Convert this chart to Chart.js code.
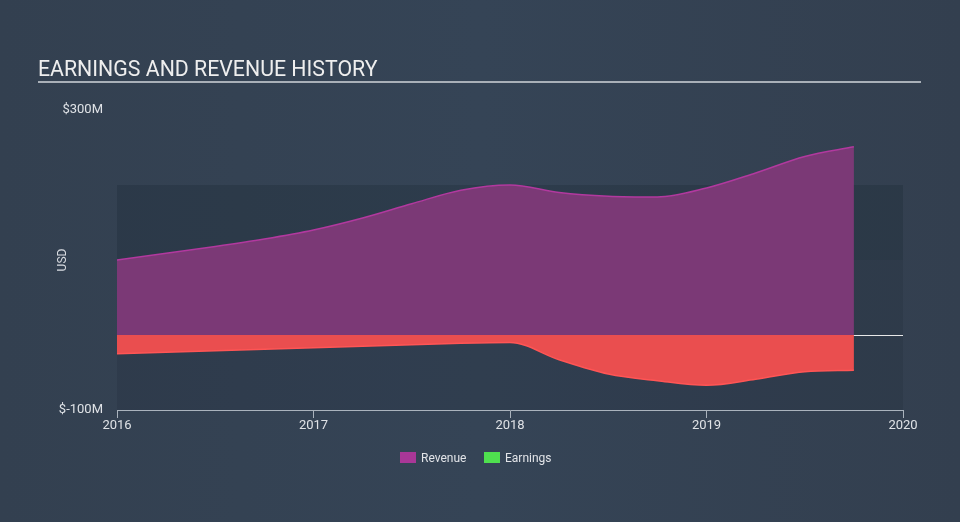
<!DOCTYPE html>
<html>
<head>
<meta charset="utf-8">
<script src="https://cdn.jsdelivr.net/npm/chart.js@4.4.0/dist/chart.umd.min.js"></script>
<style>
  html, body { margin: 0; padding: 0; background: #344253; }
  body { width: 960px; height: 522px; overflow: hidden;
         background: linear-gradient(90deg, #334050 0%, #354456 50%, #333f4f 100%); }
  #wrap { position: relative; width: 960px; height: 522px; }
  canvas { display: block; }
</style>
</head>
<body>
<div id="wrap"><canvas id="c" width="960" height="522"></canvas></div>
<script>
// ---- data (values in $M, x in decimal years) ----
const quarters = [2016.0, 2016.25, 2016.5, 2016.75, 2017.0, 2017.25, 2017.5, 2017.75,
                  2018.0, 2018.25, 2018.5, 2018.75, 2019.0, 2019.25, 2019.5, 2019.75];
const revenue  = [100, 109, 118, 128, 140, 156, 175, 193,
                  200, 190, 185, 184, 196, 216, 238, 251];
const earnings = [-25, -23, -21, -19, -17, -15, -13, -11,
                  -10, -33, -52, -61, -67, -59, -49, -47];
const xTicks = [2016, 2017, 2018, 2019, 2020];
const yTicks = [-100, 300];
const yTickLabels = { "-100": "$-100M", "300": "$300M" };
const seriesNames = ["Revenue", "Earnings"];
const legendColors = ["#a93797", "#4fe04f"];
const titleText = "EARNINGS AND REVENUE HISTORY";
const axisTitle = "USD";

const FONT = "Roboto, 'Open Sans', Arial, sans-serif";

const decor = {
  id: 'decor',
  beforeDatasetsDraw(chart) {
    const {ctx, chartArea: a, scales: {x, y}} = chart;
    ctx.save();
    // bands
    ctx.fillStyle = 'rgba(20,30,40,0.22)';
    ctx.fillRect(a.left, y.getPixelForValue(200), a.right - a.left, y.getPixelForValue(100) - y.getPixelForValue(200));
    ctx.fillStyle = 'rgba(20,30,40,0.14)';
    ctx.fillRect(a.left, y.getPixelForValue(100), a.right - a.left, y.getPixelForValue(-100) - y.getPixelForValue(100));
    // zero line
    const z = Math.round(y.getPixelForValue(0)) + 0.5;
    ctx.strokeStyle = '#e8e8e8';
    ctx.lineWidth = 1;
    ctx.beginPath(); ctx.moveTo(a.left, z); ctx.lineTo(a.right, z); ctx.stroke();
    ctx.restore();
  },
  afterDraw(chart) {
    const {ctx, chartArea: a} = chart;
    ctx.save();
    // title
    ctx.fillStyle = '#eeeeee';
    ctx.font = '21.3px ' + FONT;
    ctx.textBaseline = 'alphabetic';
    ctx.textAlign = 'left';
    ctx.fillText(titleText, 38, 76);
    ctx.fillStyle = '#a9b0b8';
    ctx.fillRect(38, 81, 883, 2);
    // axis title
    ctx.translate(63, 260);
    ctx.rotate(-Math.PI / 2);
    ctx.font = '12px ' + FONT;
    ctx.fillStyle = '#d8dbe0';
    ctx.textAlign = 'center';
    ctx.textBaseline = 'middle';
    ctx.fillText(axisTitle, 0, 0);
    ctx.restore();
    // legend
    ctx.save();
    ctx.font = '12px ' + FONT;
    ctx.textBaseline = 'middle';
    ctx.textAlign = 'left';
    const items = [{x: 400, label: seriesNames[0], c: legendColors[0]},
                   {x: 484, label: seriesNames[1], c: legendColors[1]}];
    items.forEach(it => {
      ctx.fillStyle = it.c;
      ctx.fillRect(it.x, 452, 16, 11);
      ctx.fillStyle = '#e2e4e8';
      ctx.fillText(it.label, it.x + 21, 458.5);
    });
    ctx.restore();
  }
};

new Chart(document.getElementById('c'), {
  type: 'line',
  data: {
    datasets: [
      {
        label: seriesNames[0],
        data: quarters.map((q, i) => ({x: q, y: revenue[i]})),
        borderColor: '#b2399f',
        backgroundColor: 'rgba(123,57,118,1)',
        borderWidth: 1.5,
        fill: 'origin',
        pointRadius: 0,
        cubicInterpolationMode: 'monotone'
      },
      {
        label: seriesNames[1],
        data: quarters.map((q, i) => ({x: q, y: earnings[i]})),
        borderColor: '#ff5555',
        backgroundColor: 'rgba(234,78,79,1)',
        borderWidth: 1.5,
        fill: 'origin',
        pointRadius: 0,
        cubicInterpolationMode: 'monotone'
      }
    ]
  },
  options: {
    responsive: false,
    animation: false,
    layout: { padding: { left: 0, right: 57, top: 110, bottom: 0 } },
    plugins: { legend: { display: false }, tooltip: { enabled: false }, title: { display: false } },
    scales: {
      x: {
        type: 'linear',
        min: 2016, max: 2020,
        afterBuildTicks: s => { s.ticks = xTicks.map(v => ({value: v})); },
        afterFit: s => { s.height = 112; },
        grid: { drawOnChartArea: false, color: '#aab3bd', tickLength: 8, lineWidth: 1 },
        border: { color: '#aab3bd', width: 1 },
        ticks: { color: '#dfe2e6', font: { family: FONT, size: 13 }, padding: 0, maxRotation: 0,
                 callback: v => String(v) }
      },
      y: {
        type: 'linear',
        min: -100, max: 300,
        afterBuildTicks: s => { s.ticks = yTicks.map(v => ({value: v})); },
        afterFit: s => { s.width = 117; },
        grid: { display: false, drawTicks: false },
        border: { display: false },
        ticks: { color: '#dfe2e6', font: { family: FONT, size: 13 }, padding: 14,
                 callback: v => yTickLabels[String(v)] }
      }
    }
  },
  plugins: [decor]
});
</script>
</body>
</html>
